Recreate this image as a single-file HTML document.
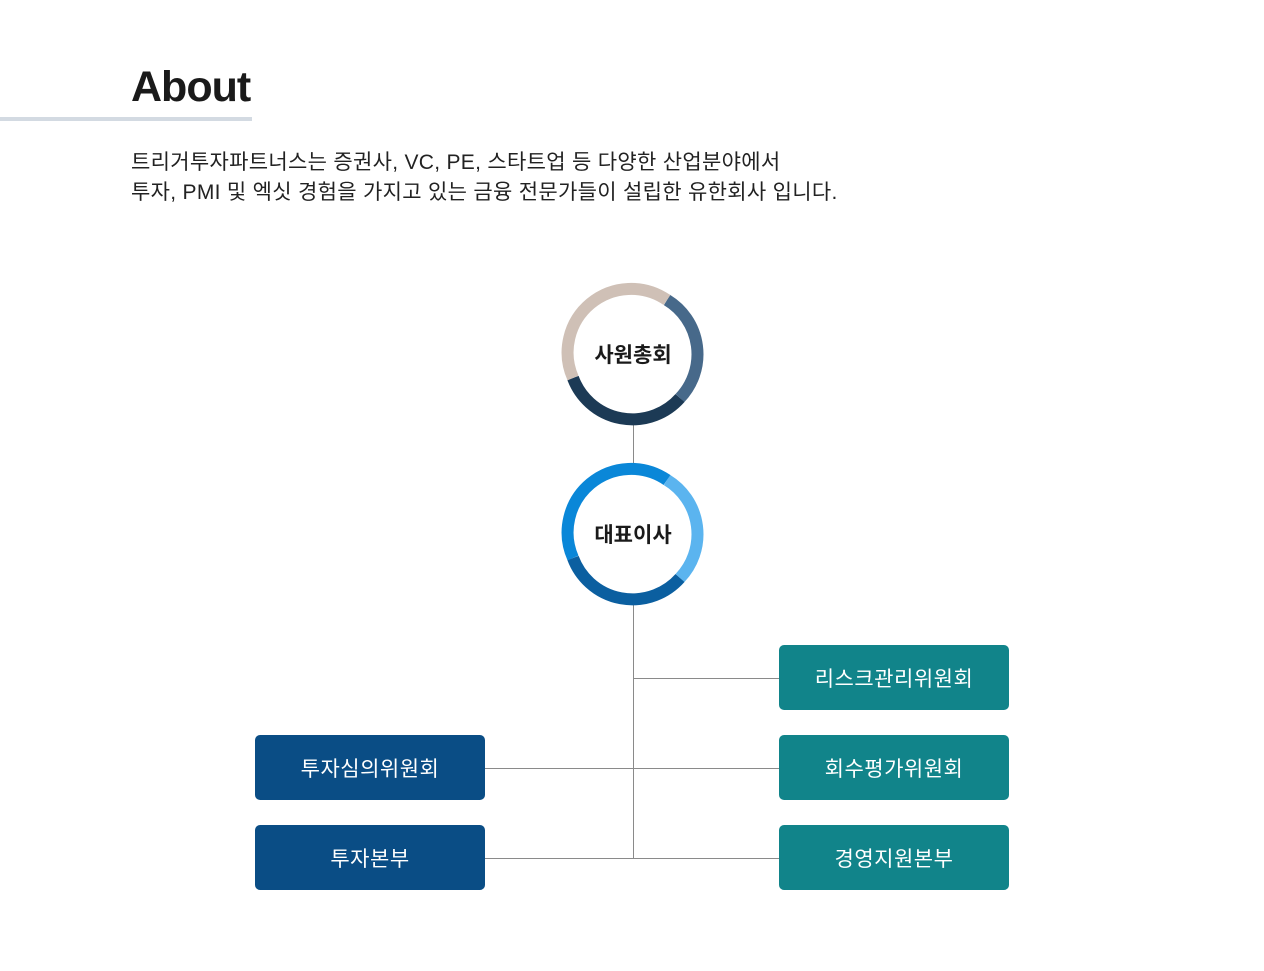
<!DOCTYPE html>
<html><head><meta charset="utf-8"><style>
body{margin:0;width:1264px;height:971px;background:#fff;position:relative;overflow:hidden;font-family:"Liberation Sans","Noto Sans CJK KR",sans-serif;color:#1a1a1a}
.t{position:absolute;left:131px;top:63px;font-size:43px;font-weight:bold;letter-spacing:-1px}
.u{position:absolute;left:0;top:117px;width:252px;height:4px;background:#d3dae2}
.p{position:absolute;left:131px;top:148px;font-size:21px;line-height:30px;letter-spacing:0.3px;color:#222}
.b{position:absolute;width:230px;height:65px;border-radius:5px;color:#fff;font-size:21px;display:flex;align-items:center;justify-content:center;letter-spacing:0.5px}
.n{background:#0a4d85}.g{background:#11848a}
</style></head><body>
<div class="t">About</div><div class="u"></div>
<div class="p">트리거투자파트너스는 증권사, VC, PE, 스타트업 등 다양한 산업분야에서<br>투자, PMI 및 엑싯 경험을 가지고 있는 금융 전문가들이 설립한 유한회사 입니다.</div>
<svg width="1264" height="971" style="position:absolute;left:0;top:0">
<g stroke="#8a8a8a" stroke-width="1" fill="none">
<line x1="633.5" y1="420" x2="633.5" y2="470"/>
<line x1="633.5" y1="600" x2="633.5" y2="858.5"/>
<line x1="633" y1="678.5" x2="780" y2="678.5"/>
<line x1="484" y1="768.5" x2="780" y2="768.5"/>
<line x1="484" y1="858.5" x2="780" y2="858.5"/>
</g>
<g fill="none" stroke-width="12">
<path d="M667,300 A63.5,63.5 0 0 1 680,398" stroke="#47698a"/>
<path d="M680,398 A63.5,63.5 0 0 1 573,378" stroke="#1c3a55"/>
<path d="M573,378 A63.5,63.5 0 0 1 667,300" stroke="#cfc0b6"/>
<path d="M667,480 A63.5,63.5 0 0 1 680,578" stroke="#5bb4ef"/>
<path d="M680,578 A63.5,63.5 0 0 1 573,558" stroke="#0b5fa0"/>
<path d="M573,558 A63.5,63.5 0 0 1 667,480" stroke="#0a87d8"/>
</g>
<g font-family="Liberation Sans, Noto Sans CJK KR, sans-serif" font-size="21" font-weight="bold" text-anchor="middle" fill="#1a1a1a">
<text x="633" y="362">사원총회</text>
<text x="633" y="542">대표이사</text>
</g>
</svg>
<div class="b g" style="left:779px;top:645px">리스크관리위원회</div>
<div class="b g" style="left:779px;top:735px">회수평가위원회</div>
<div class="b g" style="left:779px;top:825px">경영지원본부</div>
<div class="b n" style="left:255px;top:735px">투자심의위원회</div>
<div class="b n" style="left:255px;top:825px">투자본부</div>
</body></html>
